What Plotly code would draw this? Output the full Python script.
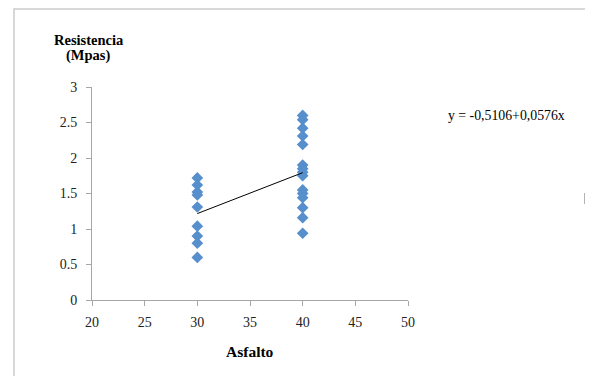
import plotly.graph_objects as go

# Data
asfalto_30 = [30] * 9
resist_30 = [1.72, 1.62, 1.52, 1.48, 1.31, 1.04, 0.90, 0.80, 0.60]
asfalto_40 = [40] * 15
resist_40 = [2.60, 2.54, 2.42, 2.31, 2.19, 1.90, 1.85, 1.80, 1.75,
             1.55, 1.50, 1.44, 1.30, 1.16, 0.94]

intercept = -0.5106
slope = 0.0576
trend_x = [30, 40]
trend_y = [intercept + slope * v for v in trend_x]

x_ticks = [20, 25, 30, 35, 40, 45, 50]
y_ticks = [0, 0.5, 1, 1.5, 2, 2.5, 3]
y_tick_labels = ["0", "0.5", "1", "1.5", "2", "2.5", "3"]

W, H = 593, 376
OFF = 8  # page body margin offset
L, T = 92 - OFF, 87 - OFF
PW, PH = 316, 213
R = W - L - PW
B = H - T - PH

font_family = "Liberation Serif, DejaVu Serif, serif"

fig = go.Figure()
fig.add_trace(go.Scatter(
    x=asfalto_30 + asfalto_40, y=resist_30 + resist_40,
    mode="markers",
    marker=dict(symbol="diamond", size=9, color="#568FCC", line=dict(width=0)),
    showlegend=False, hoverinfo="x+y"))
fig.add_trace(go.Scatter(
    x=trend_x, y=trend_y, mode="lines",
    line=dict(color="black", width=1),
    showlegend=False, hoverinfo="skip"))

axis_common = dict(
    showgrid=False, zeroline=False, showline=True,
    linecolor="#a6a6a6", linewidth=1,
    ticks="outside", ticklen=5, tickcolor="#a6a6a6", tickwidth=1,
    tickfont=dict(family=font_family, size=14, color="#222222"),
    fixedrange=True,
)

fig.update_layout(
    width=W, height=H,
    margin=dict(l=L, r=R, t=T, b=B, pad=0),
    paper_bgcolor="white", plot_bgcolor="white",
    font=dict(family=font_family, color="black"),
    xaxis=dict(range=[20, 50], tickvals=x_ticks, ticktext=[str(v) for v in x_ticks],
               ticklabelstandoff=4, **axis_common),
    yaxis=dict(range=[0, 3], tickvals=y_ticks, ticktext=y_tick_labels,
               ticklabelstandoff=6, **axis_common),
)

def px_x(p):
    return (p - OFF - L) / PW

def px_y(p):
    return (T + PH - (p - OFF)) / PH

annotations = [
    dict(text="<b>Resistencia</b>", x=px_x(89), y=px_y(40), size=14.5),
    dict(text="<b>(Mpas)</b>", x=px_x(88), y=px_y(56), size=14.5),
    dict(text="<b>Asfalto</b>", x=px_x(250), y=px_y(351), size=15.5),
    dict(text="y = -0,5106+0,0576x", x=px_x(507), y=px_y(115), size=13.8),
]
for a in annotations:
    fig.add_annotation(text=a["text"], x=a["x"], y=a["y"], xref="paper", yref="paper",
                       showarrow=False, xanchor="center", yanchor="middle",
                       font=dict(family=font_family, size=a["size"], color="black"))

# Chart frame border
fig.add_shape(type="rect", xref="paper", yref="paper",
              x0=px_x(14), x1=px_x(640), y0=px_y(9), y1=px_y(420),
              line=dict(color="#cccccc", width=1.5), fillcolor="rgba(0,0,0,0)", layer="below")
# small stray mark at right
fig.add_shape(type="line", xref="paper", yref="paper",
              x0=px_x(585), x1=px_x(585), y0=px_y(193), y1=px_y(204),
              line=dict(color="#666666", width=1))

fig.write_html("out.html")
